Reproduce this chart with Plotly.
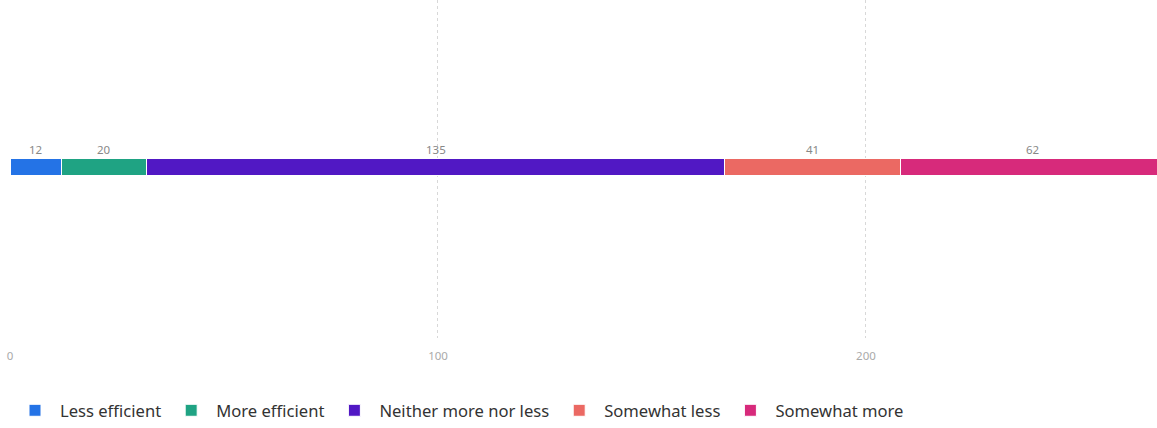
import plotly.graph_objects as go

categories = ["Less efficient", "More efficient", "Neither more nor less", "Somewhat less", "Somewhat more"]
values = [12, 20, 135, 41, 62]
colors = ["#2473e6", "#1fa383", "#5118c4", "#eb6963", "#d72a7b"]
tick_vals = [0, 100, 200]
tick_text = ["0", "100", "200"]

fig = go.Figure()
for name, v, c in zip(categories, values, colors):
    fig.add_trace(go.Bar(
        x=[v], y=["row"], name=name, orientation="h",
        marker=dict(color=c, line=dict(color="white", width=1)),
        width=0.05, hoverinfo="x+name",
    ))

cum = 0
for v in values:
    fig.add_annotation(x=cum + v / 2, y="row", text=str(v), showarrow=False,
                       yshift=17, font=dict(size=11.5, color="#888888"))
    cum += v

fig.update_layout(
    barmode="stack",
    width=1157, height=428,
    margin=dict(l=10, r=0, t=0, b=83),
    plot_bgcolor="white", paper_bgcolor="white",
    font=dict(family="Noto Sans, sans-serif", color="#333333"),
    xaxis=dict(range=[0, 268], tickvals=tick_vals, ticktext=tick_text,
               showgrid=True, gridcolor="#d8d8d8", griddash="dot", gridwidth=1,
               zeroline=False, showline=False, ticks="", ticklabelstandoff=9,
               tickfont=dict(size=11.5, color="#aaaaaa")),
    yaxis=dict(range=[-0.507, 0.493], showticklabels=False, showgrid=False,
               zeroline=False, showline=False),
    showlegend=True,
    legend=dict(orientation="h", x=0.0, xanchor="left", y=-0.164, yanchor="top",
                font=dict(size=16.6, color="#333333"), traceorder="normal",
                itemwidth=40),
)

fig.write_html("out.html", config={"displayModeBar": False},
               post_script="document.body.style.margin='0';")
